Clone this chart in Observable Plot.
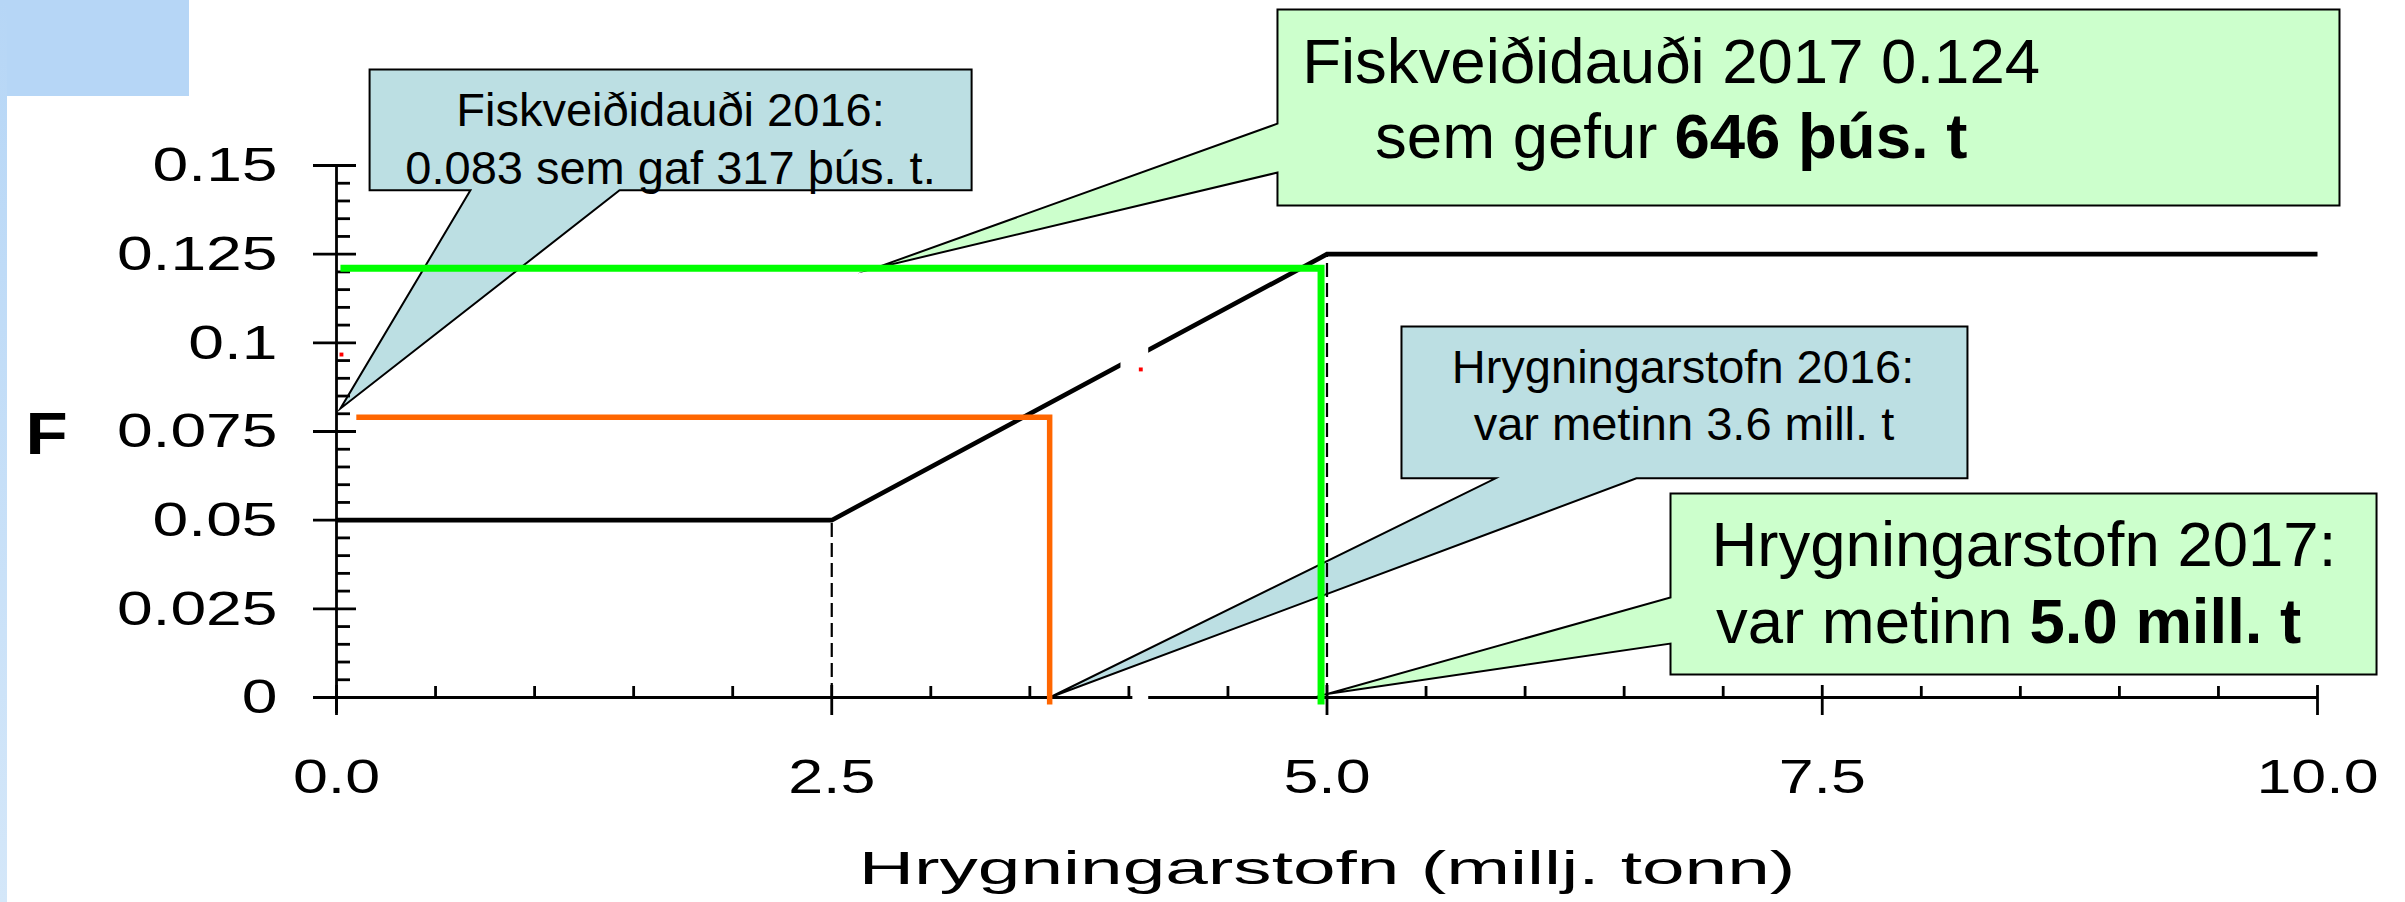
<!DOCTYPE html>
<html><head><meta charset="utf-8">
<script src="https://cdn.jsdelivr.net/npm/d3@7"></script>
<script src="https://cdn.jsdelivr.net/npm/@observablehq/plot@0.6"></script>
<style>
html,body{margin:0;padding:0;background:#fff;color:#000;}
#wrap{position:relative;width:2405px;height:902px;overflow:hidden;}
#corner{position:absolute;left:0;top:0;width:189px;height:96px;background:#b6d6f6;}
#strip{position:absolute;left:0;top:0;width:7px;height:902px;background:linear-gradient(#b6d6f6,#d4e7f9);}
</style></head><body>
<div id="wrap"><div id="chart"></div><div id="corner"></div><div id="strip"></div></div>
<script>
// ---- Harvest control rule (F vs spawning stock, millj. tonn)
const hcrX = [0, 2.5, 5, 10];
const hcrF = [0.05, 0.05, 0.125, 0.125];
const breakX = [2.5, 5];
const breakF = [0.05, 0.125];
// 2016 assessment (orange) and 2017 assessment (green) guide lines as drawn
const orangeX = [0.1, 3.6, 3.6];
const orangeF = [0.079, 0.079, -0.002];
const greenX = [0.02, 4.97, 4.97];
const greenF = [0.121, 0.121, -0.002];
// axis ticks and labels
const xMajor = [0, 2.5, 5, 7.5, 10];
const xTickLabels = ["0.0", "2.5", "5.0", "7.5", "10.0"];
const xMinor = [0.5, 1, 1.5, 2, 3, 3.5, 4, 4.5, 5.5, 6, 6.5, 7, 8, 8.5, 9, 9.5];
const yMajor = [0, 0.025, 0.05, 0.075, 0.1, 0.125, 0.15];
const yTickLabels = ["0", "0.025", "0.05", "0.075", "0.1", "0.125", "0.15"];
const yMinor = [0.005,0.01,0.015,0.02,0.03,0.035,0.04,0.045,0.055,0.06,0.065,0.07,0.08,0.085,0.09,0.095,0.105,0.11,0.115,0.12,0.13,0.135,0.14,0.145];
const xTitle = "Hrygningarstofn (millj. tonn)";
const yTitle = "F";
// callout outlines [x, F]
const calloutF2016 = [[0.167,0.1771],[3.206,0.1771],[3.206,0.1430],[1.429,0.1430],[0.02,0.0815],[0.676,0.1430],[0.167,0.1430]];
const calloutF2017 = [[4.75,0.1940],[10.111,0.1940],[10.111,0.1387],[4.75,0.1387],[4.75,0.1480],[2.716,0.1210],[4.75,0.1618]];
const calloutS2016 = [[5.376,0.1046],[8.233,0.1046],[8.233,0.0618],[6.562,0.0618],[3.6,0],[5.851,0.0618],[5.376,0.0618]];
const calloutS2017 = [[6.734,0.0575],[10.298,0.0575],[10.298,0.0065],[6.734,0.0065],[6.734,0.0152],[5.0,0.001],[6.734,0.0282]];
// callout texts
const textPlain = ["Fiskveiðidauði 2016:", "0.083 sem gaf 317 þús. t.", "Fiskveiðidauði 2017 0.124", "Hrygningarstofn 2016:", "var metinn 3.6 mill. t", "Hrygningarstofn 2017:"];
const textPlainX = [1.686, 1.686, 6.737, 6.797, 6.802, 8.518];
const textPlainF = [0.1610, 0.1449, 0.1734, 0.0888, 0.0727, 0.0372];
const textPlainSize = [47, 47, 63.5, 47, 47, 63.5];
const textLead = ["sem gefur", "var metinn"];
const textBold = ["646 þús. t", "5.0 mill. t"];
const textSplitX = [6.754, 8.546];
const textSplitF = [0.1520, 0.0155];
// small artifacts in the original picture
const maskX1 = [3.96, 4.02];
const maskX2 = [4.10, 4.10];
const maskF1 = [0.086, -0.0012];
const maskF2 = [0.099, 0.0012];
const speckX = [0.025, 4.06];
const speckF = [0.0967, 0.0925];

const W = 2405, H = 902, mL = 336, mR = 88, mT = 165, mB = 205;
const pxX = 10 / (W - mL - mR), pxY = 0.15 / (H - mT - mB);

const pts = (xs, ys) => xs.map((x, i) => ({x, y: ys[i]}));
const poly = (arr, fill) => Plot.line(arr, {x: d => d[0], y: d => d[1], curve: "linear-closed", fill, stroke: "#000", strokeWidth: 2, strokeLinejoin: "miter", strokeMiterlimit: 20});
const idx = (a) => a.map((_, i) => i);

const chart = Plot.plot({
  width: W, height: H,
  marginLeft: mL, marginRight: mR, marginTop: mT, marginBottom: mB,
  x: {domain: [0, 10]},
  y: {domain: [0, 0.15]},
  style: {fontFamily: "'Liberation Sans', Arial, sans-serif", background: "transparent", overflow: "visible", color: "#000"},
  marks: [
    poly(calloutF2016, "#bcdfe3"),
    poly(calloutF2017, "#ccffcc"),
    poly(calloutS2016, "#bcdfe3"),
    poly(calloutS2017, "#ccffcc"),
    // axes lines and ticks
    Plot.ruleX([0], {x: d => d, y1: -16 * pxY, y2: 0.15, stroke: "#000", strokeWidth: 2.8}),
    Plot.ruleY([0], {y: d => d, x1: 0, x2: 10, stroke: "#000", strokeWidth: 2.8}),
    Plot.ruleY(yMajor, {y: d => d, x1: -23 * pxX, x2: 20 * pxX, stroke: "#000", strokeWidth: 2.8}),
    Plot.ruleY(yMinor, {y: d => d, x1: 0, x2: 14 * pxX, stroke: "#000", strokeWidth: 2.8}),
    Plot.ruleX(xMajor, {x: d => d, y1: -18 * pxY, y2: 12 * pxY, stroke: "#000", strokeWidth: 2.8}),
    Plot.ruleX(xMinor, {x: d => d, y1: 0, y2: 11 * pxY, stroke: "#000", strokeWidth: 2.8}),
    // dashed breakpoints
    Plot.ruleX(idx(breakX), {x: i => breakX[i], y1: 0, y2: i => breakF[i], stroke: "#000", strokeWidth: 2.2, strokeDasharray: "14,6"}),
    // HCR
    Plot.line(pts(hcrX, hcrF), {x: "x", y: "y", stroke: "#000", strokeWidth: 4.6, strokeLinejoin: "miter", strokeLinecap: "butt", strokeMiterlimit: 4}),
    Plot.line(pts(orangeX, orangeF), {x: "x", y: "y", stroke: "#ff6600", strokeWidth: 5.5, strokeLinejoin: "miter", strokeLinecap: "butt", strokeMiterlimit: 4}),
    Plot.line(pts(greenX, greenF), {x: "x", y: "y", stroke: "#00ff00", strokeWidth: 7, strokeLinejoin: "miter", strokeLinecap: "butt", strokeMiterlimit: 4}),
    Plot.rect(idx(maskX1), {x1: i => maskX1[i], x2: i => maskX2[i], y1: i => maskF1[i], y2: i => maskF2[i], fill: "white"}),
    Plot.dot(idx(speckX), {x: i => speckX[i], y: i => speckF[i], r: 2.2, symbol: "square", fill: "red", stroke: "none"}),
    // axis labels
    Plot.axisY({ticks: yMajor, tickFormat: d => yTickLabels[yMajor.indexOf(d)], tickSize: 0, tickPadding: 59, fontSize: 49, label: null, fill: "#000"}),
    Plot.axisX({ticks: xMajor, tickFormat: d => xTickLabels[xMajor.indexOf(d)], tickSize: 0, tickPadding: 61, fontSize: 49, label: null, fill: "#000"}),
    Plot.text([xTitle], {text: d => d, frameAnchor: "bottom", dy: 186, lineAnchor: "bottom", fontSize: 47, fill: "#000"}),
    Plot.text([yTitle], {text: d => d, frameAnchor: "left", dx: -290, dy: 3, textAnchor: "middle", lineAnchor: "middle", fontSize: 60, fontWeight: "bold", fill: "#000"}),
    // callout texts
    Plot.text(idx(textPlain), {x: i => textPlainX[i], y: i => textPlainF[i], text: i => textPlain[i], fontSize: i => textPlainSize[i], lineAnchor: "bottom", fill: "#000"}),
    Plot.text(idx(textLead), {x: i => textSplitX[i], y: i => textSplitF[i], text: i => textLead[i], dx: -17, textAnchor: "end", lineAnchor: "bottom", fontSize: 63.5, fill: "#000"}),
    Plot.text(idx(textBold), {x: i => textSplitX[i], y: i => textSplitF[i], text: i => textBold[i], textAnchor: "start", lineAnchor: "bottom", fontSize: 63.5, fontWeight: "bold", fill: "#000"})
  ]
});
document.getElementById("chart").append(chart);

// horizontally stretched axis lettering, as in the original
function stretchText(match, factor) {
  chart.querySelectorAll("text").forEach(t => {
    const s = (t.textContent || "").trim();
    if (!match(s)) return;
    const L = t.getComputedTextLength();
    if (L > 0) {
      t.setAttribute("textLength", (L * factor).toFixed(1));
      t.setAttribute("lengthAdjust", "spacingAndGlyphs");
    }
  });
}
stretchText(s => yTickLabels.includes(s), 1.31);
stretchText(s => xTickLabels.includes(s), 1.28);
stretchText(s => s === xTitle, 1.63);
stretchText(s => s === yTitle, 1.15);
</script>
</body></html>
